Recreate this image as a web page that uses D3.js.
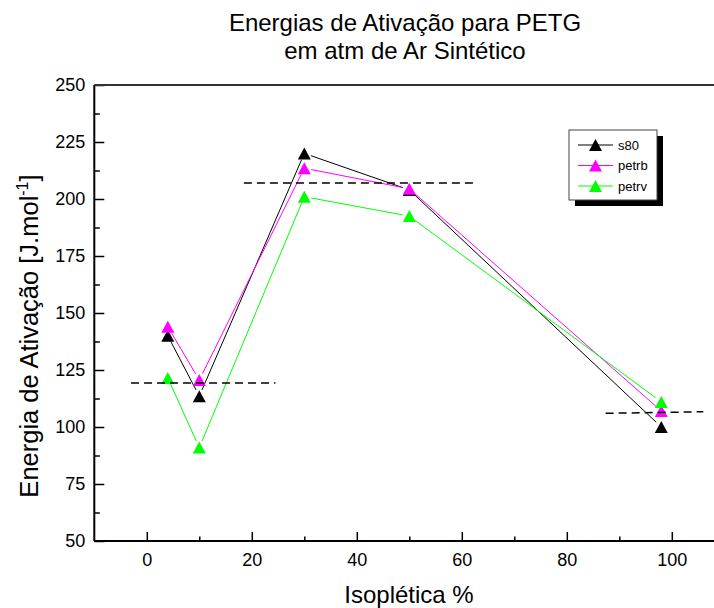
<!DOCTYPE html>
<html>
<head>
<meta charset="utf-8">
<script src="https://cdn.jsdelivr.net/npm/d3@7"></script>
<style>
  html, body { margin: 0; padding: 0; background: #fff; }
  svg { display: block; font-family: "Liberation Sans", Arial, Helvetica, sans-serif; }
</style>
</head>
<body>
<svg id="chart" width="714" height="608"></svg>
<script>
// Composition (isoplética %) at which each sample was measured
const composition = [4, 10, 30, 50, 98];

// Activation energies, J.mol^-1
const s80   = [140, 113.5, 220, 204, 100];
const petrb = [144, 120.6, 213.5, 204.5, 107];
const petrv = [121.5, 91, 201, 192.5, 111];

const seriesNames  = ["s80", "petrb", "petrv"];
const seriesValues = [s80, petrb, petrv];
const seriesColors = ["#000000", "#ff00ff", "#00ff00"];

// Horizontal dashed reference levels: [x start, y start, x end, y end]
const levelLines = [
  [-3, 119.3, 24.5, 119.3],
  [18.5, 207, 63, 207],
  [87.4, 106, 106, 106.7]
];

const xTicks = [0, 20, 40, 60, 80, 100];
const xMinorTicks = [10, 30, 50, 70, 90];
const yTicks = [50, 75, 100, 125, 150, 175, 200, 225, 250];
const yMinorTicks = [62.5, 87.5, 112.5, 137.5, 162.5, 187.5, 212.5, 237.5];

const titleLines = ["Energias de Ativação para PETG", "em atm de Ar Sintético"];

const svg = d3.select("#chart");

const x = d3.scaleLinear().domain([-10, 110]).range([94.3, 724.3]);
const y = d3.scaleLinear().domain([50, 250]).range([541, 85]);

// Title
svg.append("text")
  .attr("x", 405).attr("y", 30.5)
  .attr("text-anchor", "middle")
  .attr("font-size", 24)
  .text(titleLines[0]);
svg.append("text")
  .attr("x", 405).attr("y", 58.5)
  .attr("text-anchor", "middle")
  .attr("font-size", 24)
  .text(titleLines[1]);

// Axes: ticks point inward
const xAxis = svg.append("g")
  .attr("transform", `translate(0,${y(50)})`)
  .call(d3.axisBottom(x).tickValues(xTicks).tickSizeInner(-9).tickSizeOuter(0).tickPadding(12));
const xMinor = svg.append("g")
  .attr("transform", `translate(0,${y(50)})`)
  .call(d3.axisBottom(x).tickValues(xMinorTicks).tickSizeInner(-4.5).tickSizeOuter(0).tickFormat(""));
const yAxis = svg.append("g")
  .attr("transform", `translate(${x(-10)},0)`)
  .call(d3.axisLeft(y).tickValues(yTicks).tickSizeInner(-10).tickSizeOuter(0).tickPadding(9));
const yMinor = svg.append("g")
  .attr("transform", `translate(${x(-10)},0)`)
  .call(d3.axisLeft(y).tickValues(yMinorTicks).tickSizeInner(-5.5).tickSizeOuter(0).tickFormat(""));

[xAxis, xMinor, yAxis, yMinor].forEach(g => {
  g.select(".domain").remove();
  g.selectAll(".tick line").attr("stroke", "#000").attr("stroke-width", 1.5);
  g.selectAll(".tick text").attr("font-size", 18).attr("fill", "#000")
    .attr("font-family", "\"Liberation Sans\", Arial, sans-serif");
});

// Frame
const frame = svg.append("g").attr("stroke", "#000").attr("stroke-width", 2).attr("fill", "none");
frame.append("line").attr("x1", x(-10)).attr("x2", x(-10)).attr("y1", y(250)).attr("y2", y(50));
frame.append("line").attr("x1", x(-10)).attr("x2", x(110)).attr("y1", y(50)).attr("y2", y(50));
frame.append("line").attr("x1", x(-10)).attr("x2", x(110)).attr("y1", y(250)).attr("y2", y(250)).attr("stroke", "#333");
frame.append("line").attr("x1", x(110)).attr("x2", x(110)).attr("y1", y(250)).attr("y2", y(50));

// Axis titles
svg.append("text")
  .attr("x", 409).attr("y", 603)
  .attr("text-anchor", "middle")
  .attr("font-size", 24)
  .text("Isoplética %");

const yTitle = svg.append("text")
  .attr("transform", "translate(38,336) rotate(-90)")
  .attr("text-anchor", "middle")
  .attr("font-size", 25.5);
yTitle.append("tspan").text("Energia de Ativação [J.mol");
yTitle.append("tspan").attr("font-size", 16).attr("dy", -10).text("-1");
yTitle.append("tspan").attr("dy", 10).text("]");

// Triangle marker
const triW = 13, triH = 12;
const triPath = `M0,${-triH / 2}L${triW / 2},${triH / 2}L${-triW / 2},${triH / 2}Z`;
const gap = 7;

// Series: connecting segments stop short of each marker
seriesValues.forEach((vals, si) => {
  const g = svg.append("g");
  const pts = composition.map((c, i) => [x(c), y(vals[i])]);
  for (let i = 0; i < pts.length - 1; i++) {
    const [x1, y1] = pts[i], [x2, y2] = pts[i + 1];
    const len = Math.hypot(x2 - x1, y2 - y1);
    const ux = (x2 - x1) / len, uy = (y2 - y1) / len;
    g.append("line")
      .attr("x1", x1 + ux * gap).attr("y1", y1 + uy * gap)
      .attr("x2", x2 - ux * gap).attr("y2", y2 - uy * gap)
      .attr("stroke", seriesColors[si]).attr("stroke-width", 1);
  }
  g.selectAll("path.marker")
    .data(pts)
    .join("path")
    .attr("class", "marker")
    .attr("d", triPath)
    .attr("transform", d => `translate(${d[0]},${d[1]})`)
    .attr("fill", seriesColors[si]);
});

// Dashed reference levels
svg.append("g").selectAll("line")
  .data(levelLines)
  .join("line")
  .attr("x1", d => x(d[0])).attr("y1", d => y(d[1]))
  .attr("x2", d => x(d[2])).attr("y2", d => y(d[3]))
  .attr("stroke", "#000").attr("stroke-width", 1.5)
  .attr("stroke-dasharray", "8,5");

// Legend with drop shadow
const legend = svg.append("g").attr("transform", "translate(569,130)");
legend.append("rect").attr("x", 6).attr("y", 6).attr("width", 88).attr("height", 70).attr("fill", "#000");
legend.append("rect").attr("x", 0).attr("y", 0).attr("width", 88).attr("height", 70)
  .attr("fill", "#fff").attr("stroke", "#444").attr("stroke-width", 1);
seriesNames.forEach((name, i) => {
  const ry = 15 + i * 20.5;
  legend.append("line").attr("x1", 9).attr("x2", 44).attr("y1", ry).attr("y2", ry)
    .attr("stroke", seriesColors[i]).attr("stroke-width", 1);
  legend.append("path").attr("d", triPath).attr("transform", `translate(26.5,${ry})`)
    .attr("fill", seriesColors[i]);
  legend.append("text").attr("x", 49).attr("y", ry).attr("dy", "0.35em")
    .attr("font-size", 13).text(name);
});
</script>
</body>
</html>
